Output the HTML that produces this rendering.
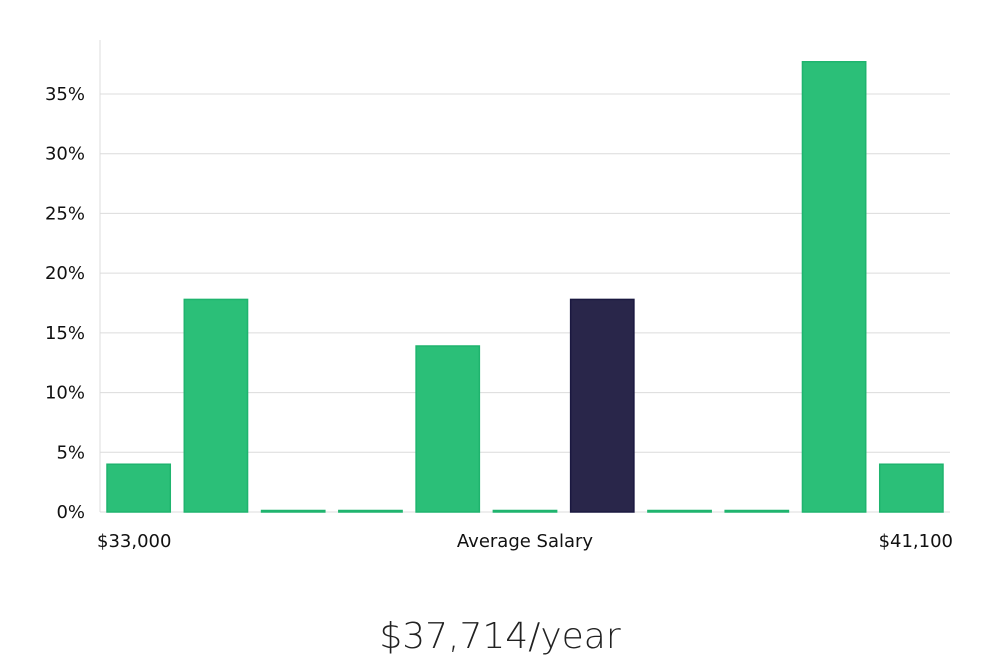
<!DOCTYPE html>
<html><head><meta charset="utf-8"><style>
body{margin:0;background:#fff;width:1000px;height:660px;overflow:hidden;font-family:"Liberation Sans","DejaVu Sans",sans-serif}
</style></head><body>
<svg id="chart" width="1000" height="660" xmlns="http://www.w3.org/2000/svg">
<g id="grid"></g><g id="bars"></g><g id="labels"></g>
<text x="500" y="648" text-anchor="middle" font-size="36" font-family="DejaVu Sans, sans-serif" font-weight="300" fill="#222">$37,714/year</text>
</svg>
<script>
const categories=["b1","b2","b3","b4","b5","b6","b7","b8","b9","b10","b11"];
const values=[4.0,17.8,0,0,13.9,0,17.8,0,0,37.7,4.0];
const highlightIndex=6;
const yTicks=[0,5,10,15,20,25,30,35];
const xLabels=["$33,000","Average Salary","$41,100"];
const NS="http://www.w3.org/2000/svg";
const x0=100,x1=950,yBase=512,yTop35=94;
const y=v=>yBase-(yBase-yTop35)*v/35;
const slot=(x1-x0)/categories.length;
function mk(t,a,p){const e=document.createElementNS(NS,t);for(const k in a)e.setAttribute(k,a[k]);p.appendChild(e);return e;}
const grid=document.getElementById('grid'),bars=document.getElementById('bars'),labels=document.getElementById('labels');
const ax=mk('line',{x1:x0,x2:x0,y1:40,y2:yBase,stroke:'#ddd','stroke-width':1},grid);


yTicks.forEach(t=>{
 const l=mk('line',{x1:x0,x2:x1,y1:y(t),y2:y(t),stroke:'#dcdcdc','stroke-width':1},grid);
 
 
 const tx=mk('text',{x:85,y:y(t)+6,'text-anchor':'end','font-size':18,fill:'#111','font-family':'DejaVu Sans, sans-serif'},labels);
 tx.textContent=t+'%';
 
 
});
values.forEach((v,i)=>{
 const bx=x0+i*slot+7,bw=slot-14;
 const top=Math.min(y(v),yBase-1.5);
 const hi=i===highlightIndex;
 const r=mk('rect',{x:bx,y:top,width:bw,height:yBase-top,fill:hi?'#29264a':'#2bbf78',stroke:hi?'#1a1840':'#1fb46e','stroke-width':1.5},bars);
 
 
});
const lx=[[97,'start'],[525,'middle'],[953,'end']];
xLabels.forEach((s,i)=>{
 const t=mk('text',{x:lx[i][0],y:547,'text-anchor':lx[i][1],'font-size':18,fill:'#111','font-family':'DejaVu Sans, sans-serif'},labels);
 t.textContent=s;
 
 
});
</script>
</body></html>
